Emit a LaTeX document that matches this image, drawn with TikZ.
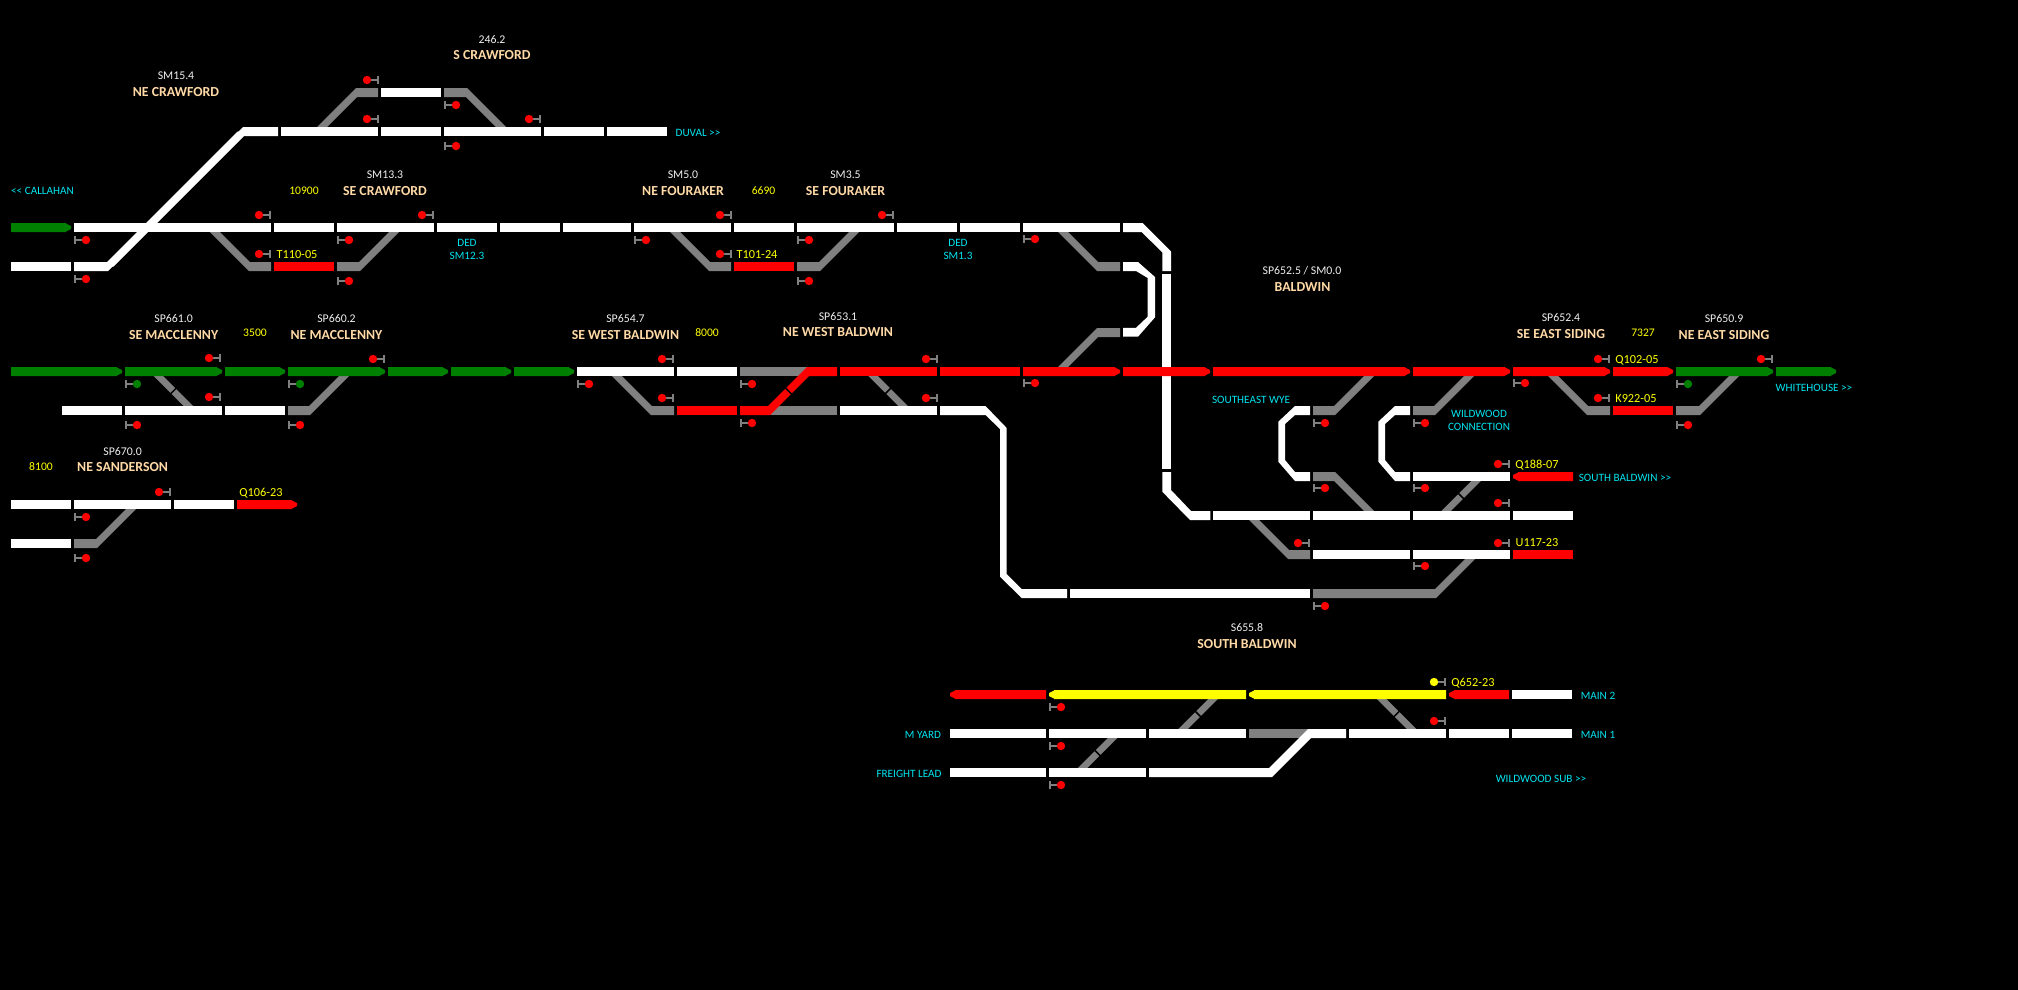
\documentclass[tikz,border=0pt]{standalone}
\usepackage{fontspec}
\setmainfont{Carlito}
\definecolor{grn}{HTML}{008000}
\definecolor{gry}{HTML}{808080}
\definecolor{rd}{HTML}{FF0000}
\definecolor{ylw}{HTML}{FFFF00}
\definecolor{peach}{HTML}{FFD9A6}
\definecolor{cyn}{HTML}{00E5F0}
\definecolor{mile}{HTML}{F0F0F0}
\tikzset{
  lab/.style={inner sep=0pt,anchor=center,font=\fontsize{11.8}{13}\selectfont},
  mp/.style={lab,text=mile},
  stn/.style={lab,text=peach,font=\bfseries\fontsize{13.8}{15}\selectfont},
  len/.style={lab,text=ylw,font=\fontsize{11.6}{13}\selectfont},
  sym/.style={lab,text=ylw,font=\fontsize{12.3}{14}\selectfont},
  dest/.style={lab,text=cyn,font=\fontsize{11.2}{13}\selectfont},
  brk/.style={draw=black,line width=1.5pt},
  sigpart/.style={draw=gry,line width=1.6pt}
}
% plain track block
\newcommand{\trk}[4]{\fill[#1] (#2,{#4-4.5}) rectangle (#3,{#4+4.5});}
% block with right / left pointing end
\newcommand{\trkR}[4]{\fill[#1] (#2,{#4-4.5})--({#3-5},{#4-4.5})--({#3-5},{#4-4})--(#3,{#4-1.5})--(#3,{#4+1.5})--({#3-5},{#4+4})--({#3-5},{#4+4.5})--(#2,{#4+4.5})--cycle;}
\newcommand{\trkL}[4]{\fill[#1] (#3,{#4-4.5})--({#2+5},{#4-4.5})--({#2+5},{#4-4})--(#2,{#4-1.5})--(#2,{#4+1.5})--({#2+5},{#4+4})--({#2+5},{#4+4.5})--(#3,{#4+4.5})--cycle;}
% block (xe..xb at row y) turning at xb diagonally to row yo
\newcommand{\dg}[5]{%
  \pgfmathsetmacro{\dgD}{(#2>#1)?1:-1}%
  \pgfmathsetmacro{\dgS}{(#3>#4)?1:-1}%
  \pgfmathsetmacro{\dgY}{#3+\dgS*4.5}%
  \pgfmathsetmacro{\dgX}{#2+\dgD*abs(\dgY-#4)}%
  \fill[#5] (#1,\dgY)--(#2,\dgY)--(\dgX,#4)--({\dgX-\dgD*10},#4)--({#2-\dgD*1},{#3-\dgS*4.5})--(#1,{#3-\dgS*4.5})--cycle;}
% crossover centred at cx,cy, with a break: sgn +1 = "\", -1 = "/"; h = half the row spacing
\newcommand{\xo}[5]{%
  \fill[#5] ({#1-#3*#4-4.75},{#2-#4})--({#1-#3*#4+4.75},{#2-#4})--({#1+#3*#4+4.75},{#2+#4})--({#1+#3*#4-4.75},{#2+#4})--cycle;
  \draw[brk] ({#1-4.5},{#2+#3*4.5})--({#1+4.5},{#2-#3*4.5});}
% signal: colour, bar x, y, dir (-1 dot to the left, +1 dot to the right)
\newcommand{\sg}[4]{%
  \draw[sigpart] (#2,{#3-3.8})--(#2,{#3+3.8});
  \draw[sigpart] (#2,#3)--({#2+#4*10},#3);
  \fill[#1] ({#2+#4*11},#3) circle (4.2);}
\begin{document}
\begin{tikzpicture}[x=1pt,y=-1pt]
\useasboundingbox (0,0) rectangle (2018,989);
\fill[black] (-5,-5) rectangle (2023,994);
%% ---- crossovers with a break
\xo{173.3}{391}{1}{19.5}{gry}
\xo{888}{391}{1}{19.5}{gry}
\xo{1461}{496}{-1}{19.5}{gry}
\xo{1198}{714}{-1}{19.5}{gry}
\xo{1097.5}{753}{-1}{19.5}{gry}
\xo{1396.6}{714}{1}{19.5}{gry}
%% ---- S Crawford
\dg{378}{356}{92.5}{131.5}{gry}
\trk{white}{381}{441}{92.5}
\dg{444}{467}{92.5}{131.5}{gry}
\dg{278}{243}{131.5}{266.5}{white}
\trk{white}{281}{378}{131.5}
\trk{white}{381}{441}{131.5}
\trk{white}{444}{541}{131.5}
\trk{white}{544}{604}{131.5}
\trk{white}{607}{667}{131.5}
%% ---- Crawford / Fouraker rows
\dg{74}{108}{266.5}{131.5}{white}
\trk{white}{11}{71}{266.5}
\dg{271}{249}{266.5}{227.5}{gry}
\dg{337}{360}{266.5}{227.5}{gry}
\trk{rd}{274}{334}{266.5}
\dg{731}{709}{266.5}{227.5}{gry}
\dg{797}{820}{266.5}{227.5}{gry}
\trk{rd}{734}{794}{266.5}
\dg{1120}{1097}{266.5}{227.5}{gry}
\dg{1120}{1097}{332.5}{371.5}{gry}
\trkR{grn}{11}{71}{227.5}
\trk{white}{74}{271}{227.5}
\trk{white}{274}{334}{227.5}
\trk{white}{337}{434}{227.5}
\trk{white}{437}{497}{227.5}
\trk{white}{500}{560}{227.5}
\trk{white}{563}{631}{227.5}
\trk{white}{634}{731}{227.5}
\trk{white}{734}{794}{227.5}
\trk{white}{797}{894}{227.5}
\trk{white}{897}{957}{227.5}
\trk{white}{960}{1020}{227.5}
\trk{white}{1023}{1120}{227.5}
% main line round the corner and down
\fill[white] (1123,223)--(1142.7,223)--(1171,251.5)--(1171,271)--(1162.3,271)--(1162.3,252.5)--(1141.7,232)--(1123,232)--cycle;
\fill[white] (1162.3,274)--(1171,274)--(1171,468.7)--(1162.3,468.7)--cycle;
\fill[white] (1162.3,472)--(1171,472)--(1171,490)--(1191,511)--(1210.3,511)--(1210.3,520)--(1190,520)--(1162.3,491.7)--cycle;
% loop between rows 266 and 332
\fill[white] (1123,262)--(1138,262)--(1155,277)--(1155,317.3)--(1138,336.7)--(1123,336.7)--(1123,327.8)--(1136,327.8)--(1147.7,316.7)--(1147.7,278)--(1136,271)--(1123,271)--cycle;
%% ---- Macclenny / West Baldwin / Baldwin row 371
\dg{288}{310}{410.5}{371.5}{gry}
\dg{674}{651}{410.5}{371.5}{gry}
\trkR{grn}{11}{122}{371.5}
\trkR{grn}{125}{222}{371.5}
\trkR{grn}{225}{285}{371.5}
\trkR{grn}{288}{385}{371.5}
\trkR{grn}{388}{448}{371.5}
\trkR{grn}{451}{511}{371.5}
\trkR{grn}{514}{574}{371.5}
\trk{white}{577}{674}{371.5}
\trk{white}{677}{737}{371.5}
\trk{gry}{740}{810}{371.5}
\trk{gry}{765}{837}{410.5}
\dg{740}{770}{410.5}{371.5}{rd}
\dg{837}{807}{371.5}{410.5}{rd}
\draw[brk] (784,386.5)--(793,395.5);
\trk{rd}{840}{937}{371.5}
\trk{rd}{940}{1020}{371.5}
\trkR{rd}{1023}{1120}{371.5}
\trkR{rd}{1123}{1210}{371.5}
\dg{1313}{1335}{410.5}{371.5}{gry}
\dg{1413}{1435}{410.5}{371.5}{gry}
\dg{1610}{1587}{410.5}{371.5}{gry}
\dg{1676}{1700}{410.5}{371.5}{gry}
\trkR{rd}{1213}{1410}{371.5}
\trkR{rd}{1413}{1510}{371.5}
\trkR{rd}{1513}{1610}{371.5}
\trkR{rd}{1613}{1673}{371.5}
\trkR{grn}{1676}{1773}{371.5}
\trkR{grn}{1776}{1836}{371.5}
%% ---- row 410
\trk{white}{62}{122}{410.5}
\trk{white}{125}{222}{410.5}
\trk{white}{225}{285}{410.5}
\trk{rd}{677}{737}{410.5}
\trk{white}{840}{937}{410.5}
\trk{rd}{1613}{1673}{410.5}
% long line down to row 593
\fill[white] (940,406)--(985.5,406)--(1006.7,428)--(1006.7,574)--(1021.7,589)--(1067,589)--(1067,598)--(1021.7,598)--(1000,576.7)--(1000,429)--(985.5,415)--(940,415)--cycle;
\dg{1313}{1436}{593.5}{554.5}{gry}
\trk{white}{1070}{1310}{593.5}
%% ---- wyes
\fill[white] (1310,406)--(1295,406)--(1278.3,421.7)--(1278.3,461.7)--(1295,481)--(1310,481)--(1310,472)--(1295,472)--(1285,460)--(1285,424)--(1295,415)--(1310,415)--cycle;
\fill[white] (1410,406)--(1395,406)--(1378.3,421.7)--(1378.3,461.7)--(1395,481)--(1410,481)--(1410,472)--(1395,472)--(1385,460)--(1385,424)--(1395,415)--(1410,415)--cycle;
\dg{1313}{1335}{476.5}{515.5}{gry}
\dg{1310}{1288}{554.5}{515.5}{gry}
\trk{white}{1413}{1510}{476.5}
\trkL{rd}{1513}{1573}{476.5}
\trk{white}{1213}{1310}{515.5}
\trk{white}{1313}{1410}{515.5}
\trk{white}{1413}{1510}{515.5}
\trk{white}{1513}{1573}{515.5}
\trk{white}{1313}{1410}{554.5}
\trk{white}{1413}{1510}{554.5}
\trk{rd}{1513}{1573}{554.5}
%% ---- Sanderson
\dg{74}{97}{543.5}{504.5}{gry}
\trk{white}{11}{71}{504.5}
\trk{white}{74}{171}{504.5}
\trk{white}{174}{234}{504.5}
\trkR{rd}{237}{297}{504.5}
\trk{white}{11}{71}{543.5}
%% ---- South Baldwin
\trkL{rd}{950}{1046}{694.5}
\trkL{ylw}{1049}{1246}{694.5}
\trkL{ylw}{1249}{1446}{694.5}
\trkL{rd}{1449}{1509}{694.5}
\trk{white}{1512}{1572}{694.5}
\trk{gry}{1249}{1310}{733.5}
\dg{1346}{1308}{733.5}{772.5}{white}
\dg{1149}{1272}{772.5}{733.5}{white}
\trk{white}{950}{1046}{733.5}
\trk{white}{1049}{1146}{733.5}
\trk{white}{1149}{1246}{733.5}
\trk{white}{1349}{1446}{733.5}
\trk{white}{1449}{1509}{733.5}
\trk{white}{1512}{1572}{733.5}
\trk{white}{950}{1046}{772.5}
\trk{white}{1049}{1146}{772.5}
%% ---- signals
\sg{rd}{378}{80}{-1}\sg{rd}{378}{119}{-1}\sg{rd}{540}{119}{-1}
\sg{rd}{445}{105}{1}\sg{rd}{445}{146}{1}
\sg{rd}{270}{215}{-1}\sg{rd}{433}{215}{-1}\sg{rd}{270}{254}{-1}
\sg{rd}{75}{240}{1}\sg{rd}{75}{279}{1}\sg{rd}{338}{240}{1}\sg{rd}{338}{281}{1}
\sg{rd}{635}{240}{1}
\sg{rd}{731}{215}{-1}\sg{rd}{731}{254}{-1}\sg{rd}{893}{215}{-1}
\sg{rd}{798}{240}{1}\sg{rd}{798}{281}{1}
\sg{rd}{1024}{239}{1}\sg{rd}{1024}{383}{1}
\sg{rd}{673}{359}{-1}\sg{rd}{673}{398}{-1}\sg{rd}{937}{359}{-1}\sg{rd}{937}{398}{-1}
\sg{rd}{741}{384}{1}\sg{rd}{741}{423}{1}
\sg{rd}{220}{358}{-1}\sg{rd}{220}{397}{-1}
\sg{grn}{126}{384}{1}\sg{rd}{126}{425}{1}
\sg{grn}{289}{384}{1}\sg{rd}{289}{425}{1}
\sg{rd}{384}{359}{-1}\sg{rd}{578}{384}{1}
\sg{rd}{170}{492}{-1}\sg{rd}{75}{517}{1}\sg{rd}{75}{558}{1}
\sg{rd}{1609}{359}{-1}\sg{rd}{1609}{398}{-1}\sg{rd}{1514}{383}{1}
\sg{grn}{1677}{384}{1}\sg{rd}{1677}{425}{1}\sg{rd}{1772}{359}{-1}
\sg{rd}{1314}{423}{1}\sg{rd}{1314}{488}{1}\sg{rd}{1414}{423}{1}\sg{rd}{1414}{488}{1}
\sg{rd}{1509}{464}{-1}\sg{rd}{1509}{503}{-1}\sg{rd}{1509}{543}{-1}\sg{rd}{1309}{543}{-1}
\sg{rd}{1414}{566}{1}\sg{rd}{1314}{606}{1}
\sg{rd}{1050}{707}{1}\sg{rd}{1050}{746}{1}\sg{rd}{1050}{785}{1}
\sg{ylw}{1445}{682}{-1}\sg{rd}{1445}{721}{-1}
%% ---- labels
\node[mp] (m1) at (492,40) {246.2};
\node[stn] (s1) at (492,55.5) {S CRAWFORD};
\node[mp] (m2) at (176,76) {SM15.4};
\node[stn] (s2) at (176,91.7) {NE CRAWFORD};
\node[mp] (m3) at (385,175) {SM13.3};
\node[stn] (s3) at (385,191) {SE CRAWFORD};
\node[len] (l1) at (304,191) {10900};
\node[dest] (d1) at (42.5,191) {<{}< CALLAHAN};
\node[sym] (t1) at (297,255) {T110-05};
\node[dest] (d2) at (467,242.5) {DED};
\node[dest] (d3) at (467,256) {SM12.3};
\node[dest] (d4) at (698,132.5) {DUVAL >{}>};
\node[mp] (m4) at (683,175) {SM5.0};
\node[stn] (s4) at (683,190.7) {NE FOURAKER};
\node[len] (l2) at (763.5,191) {6690};
\node[mp] (m5) at (845.5,175) {SM3.5};
\node[stn] (s5) at (845.5,190.7) {SE FOURAKER};
\node[sym] (t2) at (757,255) {T101-24};
\node[dest] (d5) at (958,242.5) {DED};
\node[dest] (d6) at (958,256) {SM1.3};
\node[mp] (m6) at (838,317) {SP653.1};
\node[stn] (s6) at (838,332.5) {NE WEST BALDWIN};
\node[len] (l3) at (707,333) {8000};
\node[mp] (m7) at (625.5,319) {SP654.7};
\node[stn] (s7) at (625.5,335) {SE WEST BALDWIN};
\node[dest] (d7) at (1251,399.5) {SOUTHEAST WYE};
\node[mp] (m8) at (173.6,319) {SP661.0};
\node[stn] (s8) at (173.6,335) {SE MACCLENNY};
\node[len] (l4) at (255,333) {3500};
\node[mp] (m9) at (336.5,319) {SP660.2};
\node[stn] (s9) at (336.5,335) {NE MACCLENNY};
\node[len] (l5) at (41,467) {8100};
\node[mp] (m10) at (122.6,452) {SP670.0};
\node[stn] (s10) at (122.6,467.5) {NE SANDERSON};
\node[sym] (t3) at (261,493) {Q106-23};
\node[mp] (m11) at (1302,271) {SP652.5 / SM0.0};
\node[stn] (s11) at (1302.5,287) {BALDWIN};
\node[mp] (m12) at (1561,318) {SP652.4};
\node[stn] (s12) at (1561,334) {SE EAST SIDING};
\node[len] (l6) at (1643,333) {7327};
\node[mp] (m13) at (1724,319) {SP650.9};
\node[stn] (s13) at (1724,335) {NE EAST SIDING};
\node[sym] (t4) at (1637,360) {Q102-05};
\node[sym] (t5) at (1636,399) {K922-05};
\node[dest] (d8) at (1479,413.5) {WILDWOOD};
\node[dest] (d9) at (1479,426.5) {CONNECTION};
\node[sym] (t6) at (1537,465) {Q188-07};
\node[dest] (d10) at (1625,477.5) {SOUTH BALDWIN >{}>};
\node[sym] (t7) at (1537,543) {U117-23};
\node[dest] (d11) at (1814,388) {WHITEHOUSE >{}>};
\node[mp] (m14) at (1247,628) {S655.8};
\node[stn] (s14) at (1247,644) {SOUTH BALDWIN};
\node[sym] (t8) at (1473,683) {Q652-23};
\node[dest] (d12) at (1598,696) {MAIN 2};
\node[dest] (d13) at (1598,734.5) {MAIN 1};
\node[dest] (d14) at (923,734.5) {M YARD};
\node[dest] (d15) at (909,773.5) {FREIGHT LEAD};
\node[dest] (d16) at (1541,779) {WILDWOOD SUB >{}>};
\end{tikzpicture}
\end{document}
